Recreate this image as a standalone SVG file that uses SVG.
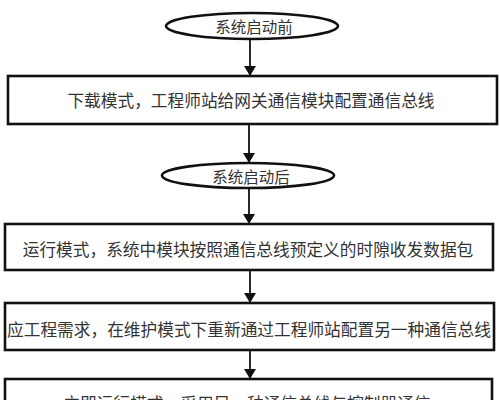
<svg xmlns="http://www.w3.org/2000/svg" width="500" height="400" viewBox="0 0 500 400">
<style>
.shape{fill:#fff;stroke:#111;stroke-width:2.6}
.t{font-family:"Noto Sans CJK SC","Noto Sans CJK TC",sans-serif;fill:#333;text-anchor:middle;dominant-baseline:central}
.tb{font-size:16.7px}
.te{font-size:15.5px}
.conn{stroke:#111;stroke-width:1.8;fill:none}
</style>
<defs>
<marker id="arr" viewBox="0 0 10 12" refX="10" refY="6" markerWidth="10" markerHeight="12" markerUnits="userSpaceOnUse" orient="auto">
<path d="M0,0 L10,6 L0,12 Z" fill="#111"/>
</marker>
</defs>
<rect width="500" height="400" fill="#fff"/>
<g id="connectors">
<line class="conn" x1="250" y1="39" x2="250" y2="76" marker-end="url(#arr)"/>
<line class="conn" x1="249" y1="124" x2="249" y2="163" marker-end="url(#arr)"/>
<line class="conn" x1="249" y1="188" x2="249" y2="224" marker-end="url(#arr)"/>
<line class="conn" x1="250" y1="270" x2="250" y2="303" marker-end="url(#arr)"/>
<line class="conn" x1="250" y1="350" x2="250" y2="379" marker-end="url(#arr)"/>
</g>
<g id="start1">
<ellipse class="shape" cx="252" cy="26" rx="86" ry="13"/>
<text class="t te" x="254" y="26">系统启动前</text>
</g>
<g id="step1">
<rect class="shape" x="8" y="76" width="489" height="48"/>
<text class="t tb" x="251" y="100">下载模式，工程师站给网关通信模块配置通信总线</text>
</g>
<g id="start2">
<ellipse class="shape" cx="248" cy="175.5" rx="86" ry="12.5"/>
<text class="t te" x="251" y="175.5">系统启动后</text>
</g>
<g id="step2">
<rect class="shape" x="5" y="224" width="488" height="46"/>
<text class="t tb" x="248" y="249">运行模式，系统中模块按照通信总线预定义的时隙收发数据包</text>
</g>
<g id="step3">
<rect class="shape" x="5" y="303" width="489" height="47"/>
<text class="t tb" x="249" y="329">应工程需求，在维护模式下重新通过工程师站配置另一种通信总线</text>
</g>
<g id="step4">
<rect class="shape" x="5" y="379" width="487" height="48"/>
<text class="t tb" x="247" y="403">立即运行模式，采用另一种通信总线与控制器通信</text>
</g>
</svg>
